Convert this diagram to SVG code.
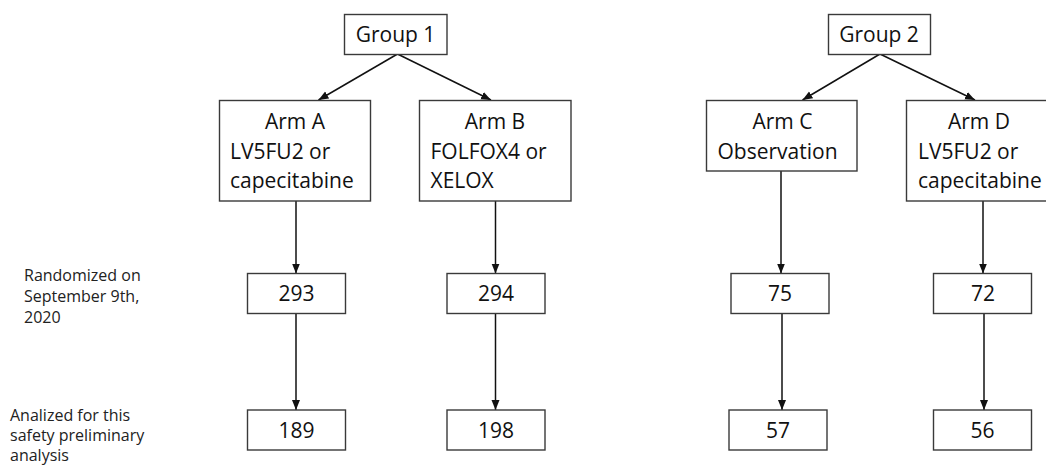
<svg xmlns="http://www.w3.org/2000/svg" width="1046" height="465" viewBox="0 0 1046 465">
<style>
.box{fill:#fff;stroke:#3a3a3a;stroke-width:1.4}
.t{font-family:"Open Sans","Liberation Sans",sans-serif;font-size:21px;fill:#111}
.c{text-anchor:middle}
.lbl{font-family:"Open Sans","Liberation Sans",sans-serif;font-size:16px;fill:#222}
.ln{stroke:#111;stroke-width:1.5;fill:none;marker-end:url(#ah)}
</style>
<defs>
<marker id="ah" markerUnits="userSpaceOnUse" markerWidth="10" markerHeight="10" viewBox="0 0 10 10" refX="10" refY="5" orient="auto">
<path d="M0,1 L10,5 L0,9 Z" fill="#111"/>
</marker>
</defs>
<rect width="1046" height="465" fill="#fff"/>
<g id="connectors">
<line class="ln" x1="397.5" y1="54" x2="318.5" y2="100"/>
<line class="ln" x1="397.5" y1="54" x2="491" y2="100"/>
<line class="ln" x1="880" y1="54" x2="802.5" y2="100"/>
<line class="ln" x1="880" y1="54" x2="975" y2="100"/>
<line class="ln" x1="296" y1="201" x2="296" y2="273.5"/>
<line class="ln" x1="495.5" y1="201" x2="495.5" y2="273.5"/>
<line class="ln" x1="781" y1="171" x2="781" y2="273.5"/>
<line class="ln" x1="983" y1="201" x2="983" y2="273.5"/>
<line class="ln" x1="296" y1="313.5" x2="296" y2="410"/>
<line class="ln" x1="495.5" y1="313.5" x2="495.5" y2="410"/>
<line class="ln" x1="782" y1="313.5" x2="782" y2="410"/>
<line class="ln" x1="984" y1="313.5" x2="984" y2="410"/>
</g>
<g id="group1"><rect class="box" x="344.5" y="14.5" width="102.5" height="40"/><text class="t c" x="395.5" y="42">Group 1</text></g>
<g id="group2"><rect class="box" x="828.5" y="14.5" width="102" height="40"/><text class="t c" x="879" y="42">Group 2</text></g>
<g id="armA"><rect class="box" x="219.5" y="100.5" width="151" height="100.5"/>
<text class="t c" x="295" y="129">Arm A</text>
<text class="t" x="230" y="158.5">LV5FU2 or</text>
<text class="t" x="230" y="187.5">capecitabine</text></g>
<g id="armB"><rect class="box" x="419.5" y="100.5" width="151.5" height="100.5"/>
<text class="t c" x="495" y="129">Arm B</text>
<text class="t" x="430.5" y="158.5">FOLFOX4 or</text>
<text class="t" x="430.5" y="187.5">XELOX</text></g>
<g id="armC"><rect class="box" x="706.5" y="100.5" width="150.5" height="70.5"/>
<text class="t c" x="782.5" y="129">Arm C</text>
<text class="t c" x="777.5" y="158.5">Observation</text></g>
<g id="armD"><rect class="box" x="906.5" y="100.5" width="145" height="100.5"/>
<text class="t c" x="979" y="129">Arm D</text>
<text class="t" x="918" y="158.5">LV5FU2 or</text>
<text class="t" x="918" y="187.5">capecitabine</text></g>
<g id="n293"><rect class="box" x="247.5" y="273.5" width="98" height="40"/><text class="t c" x="296.5" y="301">293</text></g>
<g id="n294"><rect class="box" x="447" y="273.5" width="98" height="40"/><text class="t c" x="496" y="301">294</text></g>
<g id="n75"><rect class="box" x="731" y="273.5" width="98" height="40"/><text class="t c" x="780" y="301">75</text></g>
<g id="n72"><rect class="box" x="933.5" y="273.5" width="98" height="40"/><text class="t c" x="983" y="301">72</text></g>
<g id="n189"><rect class="box" x="247.5" y="410" width="98" height="40"/><text class="t c" x="296.5" y="437.5">189</text></g>
<g id="n198"><rect class="box" x="447" y="410" width="98" height="40"/><text class="t c" x="496" y="437.5">198</text></g>
<g id="n57"><rect class="box" x="729" y="410" width="98" height="40"/><text class="t c" x="778" y="437.5">57</text></g>
<g id="n56"><rect class="box" x="933.5" y="410" width="98" height="40"/><text class="t c" x="982.5" y="437.5">56</text></g>
<g id="label-randomized">
<text class="lbl" x="24" y="281">Randomized on</text>
<text class="lbl" x="24" y="302">September 9th,</text>
<text class="lbl" x="24" y="323">2020</text></g>
<g id="label-analized">
<text class="lbl" x="10" y="421">Analized for this</text>
<text class="lbl" x="10" y="441">safety preliminary</text>
<text class="lbl" x="10" y="461">analysis</text></g>
</svg>
